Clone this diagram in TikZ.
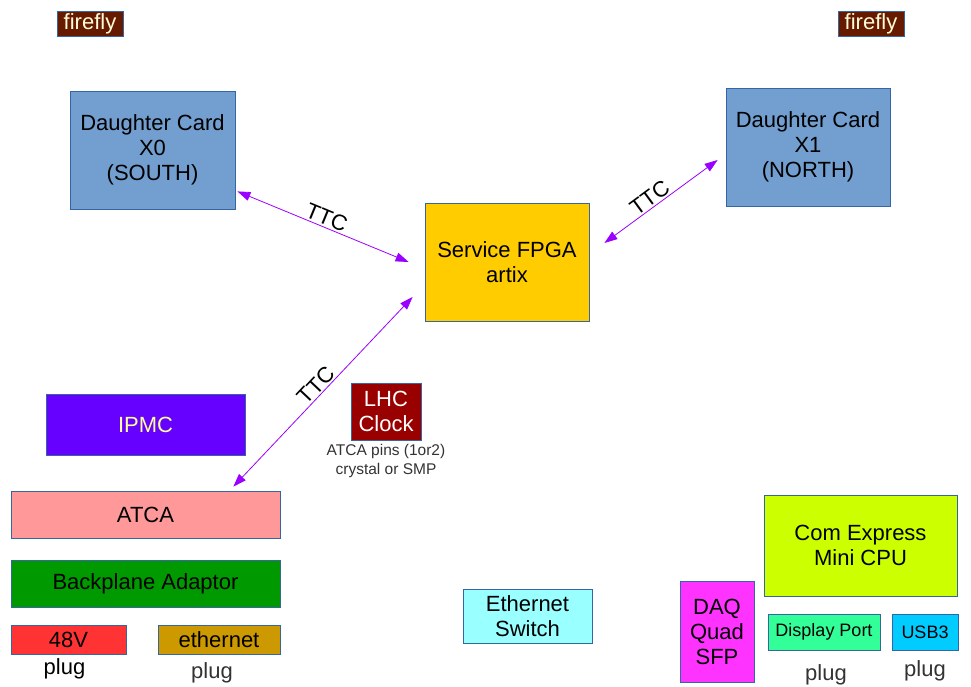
\documentclass[tikz,border=0pt]{standalone}
\usepackage{fontspec}
\setmainfont{Liberation Sans}
\usetikzlibrary{arrows.meta,positioning}

\definecolor{boxline}{HTML}{3465A4}
\definecolor{fireflybrown}{HTML}{661A00}
\definecolor{dcblue}{HTML}{729FCF}
\definecolor{fpgayellow}{HTML}{FFCC00}
\definecolor{ipmcviolet}{HTML}{6600FF}
\definecolor{paleyellow}{HTML}{FFFF99}
\definecolor{lhcred}{HTML}{990000}
\definecolor{atcapink}{HTML}{FF9999}
\definecolor{bpagreen}{HTML}{009900}
\definecolor{vred}{HTML}{FF3333}
\definecolor{ethbrown}{HTML}{CC9900}
\definecolor{eswcyan}{HTML}{99FFFF}
\definecolor{daqmagenta}{HTML}{FF33FF}
\definecolor{cpulime}{HTML}{CCFF00}
\definecolor{dpgreen}{HTML}{33FF99}
\definecolor{usbblue}{HTML}{00CCFF}
\definecolor{ttcviolet}{HTML}{9900FF}

\begin{document}
\begin{tikzpicture}[x=1pt,y=-1pt,
    box/.style={draw=boxline,line width=0.8pt,inner sep=0pt,align=center,
      font=\fontsize{22}{25}\selectfont},
    smallbox/.style={box,font=\fontsize{18}{21}\selectfont},
    plug/.style={inner sep=0pt,font=\fontsize{22}{25}\selectfont},
    ttc/.style={draw=ttcviolet,line width=0.8pt,
      {Triangle[length=13pt,width=9pt]}-{Triangle[length=13pt,width=9pt]}},
    ttclabel/.style={sloped,above,inner sep=1.5pt,font=\fontsize{22}{25}\selectfont}]
  \useasboundingbox (0,0) rectangle (971,686);

  \begin{scope}[every node/.style={box}]
    \node[fill=fireflybrown,text=white!85!yellow,minimum width=66pt,minimum height=25pt] (ffs) at (90,23.5) {firefly};
    \node[fill=fireflybrown,text=white!85!yellow,minimum width=66pt,minimum height=25pt] (ffn) at (871,23.5) {firefly};
    \node[fill=dcblue,minimum width=165pt,minimum height=118pt] (dcs) at (152.5,150) {Daughter Card\\X0\\(SOUTH)};
    \node[fill=dcblue,minimum width=164pt,minimum height=118pt] (dcn) at (808,147) {Daughter Card\\X1\\(NORTH)};
    \node[fill=fpgayellow,minimum width=164pt,minimum height=118pt] (fpga) at (507,262) {Service FPGA\\artix};
    \node[fill=ipmcviolet,text=paleyellow,minimum width=199pt,minimum height=61pt] (ipmc) at (145.5,424.5) {IPMC};
    \node[fill=lhcred,text=white,minimum width=70pt,minimum height=57pt] (lhc) at (386,411.5) {LHC\\Clock};
    \node[fill=atcapink,minimum width=269pt,minimum height=47pt] (atca) at (145.5,514.5) {ATCA};
    \node[fill=bpagreen,minimum width=269pt,minimum height=47pt] (bpa) at (145.5,583.5) {Backplane Adaptor};
    \node[fill=vred,minimum width=115pt,minimum height=29pt] (p48) at (68.5,639.5) {48V};
    \node[fill=ethbrown,minimum width=122pt,minimum height=29pt] (peth) at (219,639.5) {ethernet};
    \node[fill=eswcyan,minimum width=129pt,minimum height=54pt] (esw) at (527.5,616) {Ethernet\\Switch};
    \node[fill=daqmagenta,minimum width=74pt,minimum height=101pt] (daq) at (717,631.5) {DAQ\\Quad\\SFP};
    \node[fill=cpulime,minimum width=193pt,minimum height=101pt] (cpu) at (860.5,545.5) {Com Express\\Mini CPU};
    \node[smallbox,fill=dpgreen,minimum width=112pt,minimum height=36pt] (dp) at (824,632) {Display Port};
    \node[smallbox,fill=usbblue,minimum width=66pt,minimum height=36pt] (usb) at (925,632) {USB3};
  \end{scope}

  % notes under the boxes
  \node[align=center,inner sep=0pt,text=black!80,font=\fontsize{15.5}{19}\selectfont,below=4pt of lhc] (lhcnote) {ATCA pins (1or2)\\crystal or SMP};
  \node[plug,below=4pt of p48,xshift=-4pt] (plug48) {plug};
  \node[plug,text=black!80,below=8pt of peth,xshift=-7pt] (plugeth) {plug};
  \node[plug,text=black!80,below=14pt of dp,xshift=2pt] (plugdp) {plug};
  \node[plug,text=black!80,below=10pt of usb] (plugusb) {plug};

  % TTC links
  \draw[ttc] ([shift={(2,-18)}]dcs.south east) -- node[ttclabel] {TTC} ([shift={(-16,0)}]fpga.west);
  \draw[ttc] ([shift={(15,-19)}]fpga.east) -- node[ttclabel,pos=0.45] {TTC} ([shift={(-8,13)}]dcn.west);
  \draw[ttc] ([shift={(-12,35)}]fpga.west) -- node[ttclabel] {TTC} ([shift={(-47,-4)}]atca.north east);
\end{tikzpicture}
\end{document}
